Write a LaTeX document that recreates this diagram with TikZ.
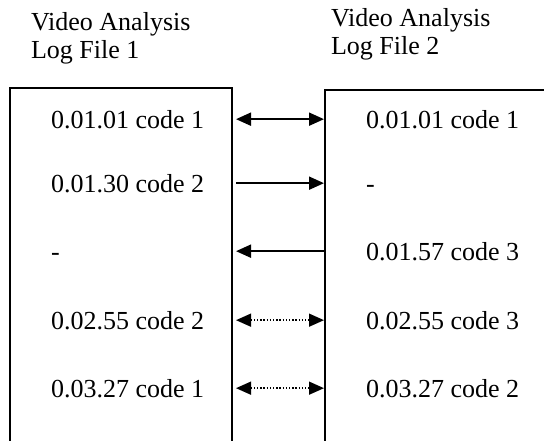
\documentclass[tikz,border=0pt]{standalone}
\usepackage{fontspec}
\setmainfont{Liberation Serif}
\usetikzlibrary{arrows.meta, positioning}

\begin{document}
\begin{tikzpicture}[x=1pt, y=-1pt, line width=2pt,
  >={Triangle[length=15pt, width=13pt]},
  logbox/.style={draw, rectangle, inner sep=0pt},
  entry/.style={anchor=base west, inner sep=0pt, font=\fontsize{26}{28}\selectfont},
  title/.style={anchor=west, inner sep=0pt, align=left,
                font=\fontsize{26}{28}\selectfont},
  link/.style={line width=2pt},
  dotlink/.style={line width=1.4pt, dash pattern=on 1.4pt off 1.8pt}]
  \useasboundingbox (0,0) rectangle (544,440);
  \clip (0,0) rectangle (544,440);
  % titles
  \node[title] (t1) at (30,38) {Video Analysis\\Log File 1};
  \node[title] (t2) at (330,34) {Video Analysis\\Log File 2};
  % the two log files
  \node[logbox, minimum width=222pt, minimum height=372pt] (log1) at (121,274) {};
  \node[logbox, minimum width=235pt, minimum height=370pt] (log2) at (442.5,275) {};
  % entries
  \node[entry] (l1) at (50,128) {0.01.01 code 1};
  \node[entry] (l2) at (50,192) {0.01.30 code 2};
  \node[entry] (l3) at (50,260) {-};
  \node[entry] (l4) at (50,329) {0.02.55 code 2};
  \node[entry] (l5) at (50,397) {0.03.27 code 1};
  \node[entry] (r1) at (365,128) {0.01.01 code 1};
  \node[entry] (r2) at (365,192) {-};
  \node[entry] (r3) at (365,260) {0.01.57 code 3};
  \node[entry] (r4) at (365,329) {0.02.55 code 3};
  \node[entry] (r5) at (365,397) {0.03.27 code 2};
  % matches between the files
  \draw[link, <->] ([xshift=3pt]l1.west -| log1.east) -- (l1.west -| log2.west);
  \draw[link, ->] ([xshift=3pt]l2.west -| log1.east) -- (l2.west -| log2.west);
  \draw[link, <-] ([xshift=3pt]r3.west -| log1.east) -- (r3.west -| log2.west);
  \draw[dotlink, <->] ([xshift=3pt]l4.west -| log1.east) -- (l4.west -| log2.west);
  \draw[dotlink, <->] ([xshift=3pt]l5.west -| log1.east) -- (l5.west -| log2.west);
\end{tikzpicture}
\end{document}
